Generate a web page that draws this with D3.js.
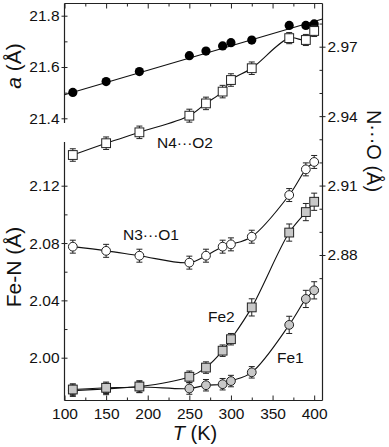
<!DOCTYPE html>
<html>
<head>
<meta charset="utf-8">
<script src="https://cdn.jsdelivr.net/npm/d3@7"></script>
<style>
  body { margin: 0; background: #fff; }
  svg { display: block; font-family: "Liberation Sans", Arial, sans-serif; }
  .axis text { font-size: 15.5px; fill: #111; }
  .axis line, .axis path { stroke: #222; }
</style>
</head>
<body>
<svg id="chart"></svg>
<script>
// temperatures (K)
const temps = [110, 150, 190, 250, 270, 290, 300, 325, 370, 390, 400];

// lattice parameter a (Å) + linear fit
const latticeA = [21.501, 21.543, 21.582, 21.644, 21.662, 21.682, 21.695, 21.705, 21.762, 21.762, 21.768];
const fitT = [100, 410];
const fitA = [21.492, 21.787];

// N···O distances (Å), right axis
const n4o2 = [2.9232, 2.9283, 2.9330, 2.9402, 2.9455, 2.9506, 2.9556, 2.9607, 2.9737, 2.9729, 2.9768];
const n4o2Err = [0.0027, 0.0027, 0.0027, 0.0028, 0.0027, 0.0027, 0.0027, 0.0027, 0.0024, 0.0024, 0.0024];
const n3o1 = [2.8836, 2.8818, 2.8797, 2.8767, 2.8797, 2.8836, 2.8846, 2.8879, 2.9059, 2.9170, 2.9202];
const n3o1Err = [0.0028, 0.0028, 0.0028, 0.0028, 0.0028, 0.0028, 0.0028, 0.0028, 0.0028, 0.0028, 0.0028];

// Fe-N distances (Å)
const fe2 = [1.9778, 1.9790, 1.9799, 1.9867, 1.9931, 2.0049, 2.0129, 2.0351, 2.0873, 2.1016, 2.1088];
const fe2Err = [0.004, 0.004, 0.004, 0.004, 0.004, 0.004, 0.004, 0.006, 0.006, 0.006, 0.006];
const fe1 = [1.9770, 1.9782, 1.9796, 1.9785, 1.9808, 1.9815, 1.9837, 1.9898, 2.0229, 2.0410, 2.0470];
const fe1Err = [0.004, 0.004, 0.004, 0.004, 0.004, 0.004, 0.004, 0.004, 0.006, 0.006, 0.006];

// ticks
const xTicks = [100, 150, 200, 250, 300, 350, 400];
const xMinor = [125, 175, 225, 275, 325, 375];
const aTicks = [21.4, 21.6, 21.8];
const aMinor = [21.5, 21.7];
const feTicks = [2.00, 2.04, 2.08, 2.12];
const feMinor = [2.02, 2.06, 2.10];
const noTicks = [2.88, 2.91, 2.94, 2.97];
const noMinor = [2.87, 2.89, 2.90, 2.92, 2.93, 2.95, 2.96, 2.98];

const width = 389, height = 447;
const L = 64.5, R = 322.5, TOP = 3.5, BOT = 400.5;
const breakTop = 123, breakBot = 142;

const svg = d3.select("#chart").attr("width", width).attr("height", height);

const x = d3.scaleLinear().domain([100, 410]).range([L, R]);
const yA = d3.scaleLinear().domain([21.4, 21.8]).range([118.3, 15.7]);
const yFe = d3.scaleLinear().domain([2.00, 2.12]).range([357.7, 185.7]);
const yNO = d3.scaleLinear().domain([2.88, 2.97]).range([255, 46.7]);

// ---- frame lines
const frame = svg.append("g").attr("stroke", "#222").attr("stroke-width", 1.2);
frame.append("line").attr("x1", L).attr("x2", R).attr("y1", TOP).attr("y2", TOP);
frame.append("line").attr("x1", L).attr("x2", R).attr("y1", BOT).attr("y2", BOT);
frame.append("line").attr("x1", R).attr("x2", R).attr("y1", TOP).attr("y2", BOT);
frame.append("line").attr("x1", L).attr("x2", L).attr("y1", TOP).attr("y2", breakTop);
frame.append("line").attr("x1", L).attr("x2", L).attr("y1", breakBot).attr("y2", BOT);

function addAxis(axis, tx, ty) {
    const g = svg.append("g").attr("class", "axis").attr("transform", `translate(${tx},${ty})`).call(axis);
    g.select(".domain").remove();
    g.selectAll("text").attr("font-family", null).attr("font-size", null);
    return g;
}

// x axes
addAxis(d3.axisBottom(x).tickValues(xTicks).tickSize(-5).tickPadding(7).tickFormat(d3.format("d")), 0, BOT);
addAxis(d3.axisBottom(x).tickValues(xMinor).tickSize(-3).tickFormat(""), 0, BOT);
addAxis(d3.axisTop(x).tickValues(xTicks).tickSize(-5).tickFormat(""), 0, TOP);
addAxis(d3.axisTop(x).tickValues(xMinor).tickSize(-3).tickFormat(""), 0, TOP);

// left axes (upper: a, lower: Fe-N)
addAxis(d3.axisLeft(yA).tickValues(aTicks).tickSize(3).tickPadding(2).tickFormat(d3.format(".1f")), L, 0);
addAxis(d3.axisLeft(yA).tickValues(aTicks).tickSize(-3).tickFormat(""), L, 0);
addAxis(d3.axisLeft(yA).tickValues(aMinor).tickSize(-3).tickFormat(""), L, 0);
addAxis(d3.axisLeft(yFe).tickValues(feTicks).tickSize(3).tickPadding(2).tickFormat(d3.format(".2f")), L, 0);
addAxis(d3.axisLeft(yFe).tickValues(feTicks).tickSize(-3).tickFormat(""), L, 0);
addAxis(d3.axisLeft(yFe).tickValues(feMinor).tickSize(-3).tickFormat(""), L, 0);

// right axis (N···O)
addAxis(d3.axisRight(yNO).tickValues(noTicks).tickSize(3).tickPadding(2).tickFormat(d3.format(".2f")), R, 0);
addAxis(d3.axisRight(yNO).tickValues(noTicks).tickSize(-3).tickFormat(""), R, 0);
addAxis(d3.axisRight(yNO).tickValues(noMinor).tickSize(-3).tickFormat(""), R, 0);

// ---- series
const curve = d3.curveCatmullRom.alpha(0.5);

function drawSeries(vals, errs, yScale, marker, fill) {
    const pts = temps.map((t, i) => ({ t: t, v: vals[i], e: errs ? errs[i] : 0 }));
    const g = svg.append("g");
    g.append("path")
        .datum(pts)
        .attr("fill", "none")
        .attr("stroke", "#111")
        .attr("stroke-width", 1.1)
        .attr("d", d3.line().x(d => x(d.t)).y(d => yScale(d.v)).curve(curve));
    if (errs) {
        const eb = g.selectAll(".eb").data(pts).enter().append("g").attr("stroke", "#222").attr("stroke-width", 1);
        eb.append("line").attr("x1", d => x(d.t)).attr("x2", d => x(d.t))
            .attr("y1", d => yScale(d.v - d.e)).attr("y2", d => yScale(d.v + d.e));
        eb.append("line").attr("x1", d => x(d.t) - 3).attr("x2", d => x(d.t) + 3)
            .attr("y1", d => yScale(d.v - d.e)).attr("y2", d => yScale(d.v - d.e));
        eb.append("line").attr("x1", d => x(d.t) - 3).attr("x2", d => x(d.t) + 3)
            .attr("y1", d => yScale(d.v + d.e)).attr("y2", d => yScale(d.v + d.e));
    }
    if (marker === "circle") {
        g.selectAll("circle").data(pts).enter().append("circle")
            .attr("cx", d => x(d.t)).attr("cy", d => yScale(d.v)).attr("r", 4.4)
            .attr("fill", fill).attr("stroke", "#222").attr("stroke-width", 1);
    } else {
        const s = 8.8;
        g.selectAll("rect").data(pts).enter().append("rect")
            .attr("x", d => x(d.t) - s / 2).attr("y", d => yScale(d.v) - s / 2)
            .attr("width", s).attr("height", s)
            .attr("fill", fill).attr("stroke", "#222").attr("stroke-width", 1);
    }
}

// lattice parameter: fit line + filled dots
svg.append("path")
    .datum(fitT.map((t, i) => [t, fitA[i]]))
    .attr("fill", "none").attr("stroke", "#111").attr("stroke-width", 1.1)
    .attr("d", d3.line().x(d => x(d[0])).y(d => yA(d[1])));
svg.append("g").selectAll("circle").data(temps).enter().append("circle")
    .attr("cx", d => x(d)).attr("cy", (d, i) => yA(latticeA[i])).attr("r", 4.6)
    .attr("fill", "#000");

drawSeries(n4o2, n4o2Err, yNO, "square", "#fff");
drawSeries(n3o1, n3o1Err, yNO, "circle", "#fff");
drawSeries(fe1, fe1Err, yFe, "circle", "#c8c8c8");
drawSeries(fe2, fe2Err, yFe, "square", "#c8c8c8");

// ---- series labels
const lab = svg.append("g").attr("font-size", 15.5).attr("fill", "#111");
lab.append("text").attr("x", 157).attr("y", 148).text("N4\u00B7\u00B7\u00B7O2");
lab.append("text").attr("x", 123).attr("y", 240).text("N3\u00B7\u00B7\u00B7O1");
lab.append("text").attr("x", 208).attr("y", 322).text("Fe2");
lab.append("text").attr("x", 277).attr("y", 363).text("Fe1");

// ---- axis titles
const titles = svg.append("g").attr("font-size", 21).attr("fill", "#111").attr("text-anchor", "middle");
const ta = titles.append("text").attr("transform", "translate(21,66) rotate(-90)");
ta.append("tspan").attr("font-style", "italic").text("a");
ta.append("tspan").text(" (\u00C5)");
titles.append("text").attr("transform", "translate(21,267) rotate(-90)").text("Fe-N (\u00C5)");
titles.append("text").attr("transform", "translate(367,151) rotate(90)").attr("font-size", 20)
    .text("N\u00B7\u00B7\u00B7O (\u00C5)");
const tt = titles.append("text").attr("x", 195).attr("y", 440).attr("font-size", 20);
tt.append("tspan").attr("font-style", "italic").text("T");
tt.append("tspan").text(" (K)");
</script>
</body>
</html>
